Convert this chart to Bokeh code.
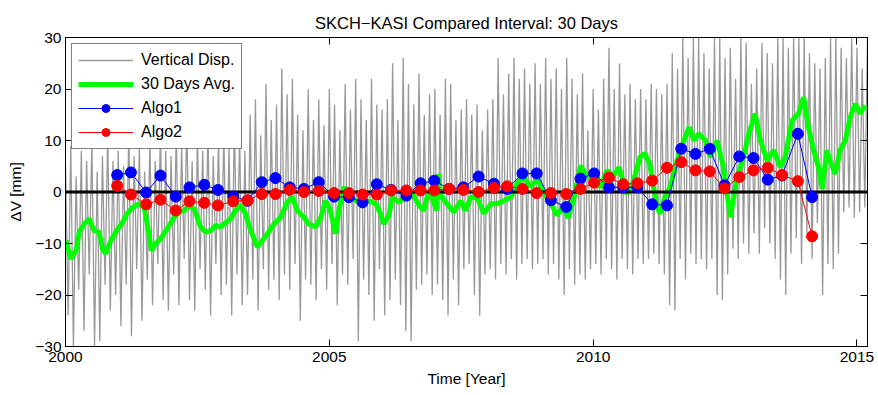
import numpy as np
from bokeh.plotting import figure
from bokeh.models import LinearAxis, FixedTicker, Range1d
from bokeh.embed import file_html
from bokeh.resources import INLINE

FONT = "Liberation Sans"

# ---------------- data ----------------
title_text = "SKCH\u2212KASI Compared Interval: 30 Days"
x_label = "Time [Year]"
y_label = "\u0394V [mm]"
x_ticks = [2000, 2005, 2010, 2015]
y_ticks = [-30, -20, -10, 0, 10, 20, 30]
y_tick_labels = ["\u221230", "\u221220", "\u221210", "0", "10", "20", "30"]

# vertical displacement: alternating local highs / lows, every 0.05 yr
gray_start = 2000.0
gray_step = 0.05
gray_v = [
    5, -24, 9, -30, 3, -19, 8, -27, 6, -16, 10, -30, 4, -29, 7, -18, 11, -23, 6, -20,      # 2000
    8, -26, 5, -18, 12, -28, 7, -15, 9, -25, 4, -17, 10, -22, 6, -14, 12, -21, 8, -23,     # 2001
    7, -16, 12, -22, 9, -13, 14, -21, 6, -23, 11, -15, 8, -19, 13, -24, 7, -14, 10, -20,   # 2002
    12, -18, 9, -24, 14, -16, 11, -22, 8, -20, 15, -17, 18, -23, 11, -15, 21, -19, 14, -17,  # 2003
    17, -21, 24, -16, 19, -19, 22, -14, 15, -25, 12, -17, 20, -18, 14, -21, 18, -15, 13, -19,  # 2004
    20, -14, 17, -22, 12, -16, 21, -18, 16, -13, 22, -29, 18, -17, 14, -20, 22, -25, 17, -15,  # 2005
    16, -24, 18, -21, 25, -17, 14, -22, 26, -27, 21, -29, 17, -19, 23, -18, 15, -16, 19, -20,  # 2006
    20, -18, 15, -21, 22, -24, 21, -17, 14, -22, 16, -15, 18, -14, 15, -20, 17, -24, 12, -16,  # 2007
    16, -15, 18, -17, 26, -14, 19, -16, 23, -13, 26, -17, 22, -14, 24, -13, 21, -15, 25, -14,  # 2008
    21, -13, 26, -16, 22, -14, 24, -17, 20, -20, 26, -15, 22, -18, 19, -16, 23, -17, 12, -15,  # 2009
    20, -14, 16, -16, 22, -13, 28, -15, 20, -17, 25, -13, 19, -15, 21, -16, 18, -13, 20, -14,  # 2010
    18, -13, 21, -12, 20, -14, 19, -16, 21, -22, 27, -23, 24, -13, 30, -17, 26, -12, 30, -14,  # 2011
    30, -13, 27, -15, 24, -13, 30, -20, 30, -21, 26, -16, 28, -11, 22, -13, 30, -10, 29, -12,  # 2012
    21, -8, 24, -12, 29, -7, 27, -10, 25, -13, 30, -17, 30, -20, 28, -12, 30, -9, 30, -14,     # 2013
    30, -8, 27, -13, 25, -6, 24, -20, 26, -14, 30, -15, 30, -12, 28, -4, 26, -3, 30, -5,       # 2014
    28, -4, 24, -3, 30,                                                                        # 2015
]

# 30 days average
avg_t = [
    2000.01, 2000.10, 2000.20, 2000.26, 2000.35, 2000.45, 2000.54, 2000.64, 2000.70, 2000.76, 2000.86, 2000.95,
    2001.08, 2001.17, 2001.27, 2001.39, 2001.49, 2001.56, 2001.63, 2001.71, 2001.80, 2001.93,
    2002.06, 2002.15, 2002.25, 2002.34, 2002.44, 2002.56, 2002.66, 2002.75, 2002.85, 2002.94,
    2003.04, 2003.13, 2003.22, 2003.32, 2003.41, 2003.51, 2003.64, 2003.73, 2003.83, 2003.95,
    2004.08, 2004.20, 2004.30, 2004.39, 2004.52, 2004.61, 2004.74, 2004.84, 2004.93,
    2005.02, 2005.12, 2005.18, 2005.28, 2005.37, 2005.50, 2005.63, 2005.75, 2005.88, 2005.97,
    2006.03, 2006.13, 2006.19, 2006.32, 2006.45, 2006.60, 2006.70, 2006.79, 2006.86, 2006.95,
    2007.03, 2007.07, 2007.11, 2007.23, 2007.36, 2007.49, 2007.58, 2007.68, 2007.80, 2007.93,
    2008.06, 2008.18, 2008.31, 2008.44, 2008.55, 2008.68, 2008.81, 2008.95,
    2009.06, 2009.19, 2009.31, 2009.42, 2009.53, 2009.64, 2009.76, 2009.89,
    2010.01, 2010.14, 2010.26, 2010.38, 2010.49, 2010.64, 2010.76, 2010.89, 2010.98,
    2011.07, 2011.21, 2011.27, 2011.36, 2011.46, 2011.59, 2011.72, 2011.82, 2011.91,
    2012.00, 2012.13, 2012.22, 2012.35, 2012.47, 2012.60, 2012.73, 2012.85, 2012.95,
    2013.07, 2013.17, 2013.30, 2013.42, 2013.55, 2013.64, 2013.77, 2013.89, 2013.99,
    2014.08, 2014.18, 2014.27, 2014.34, 2014.43, 2014.49, 2014.59, 2014.68, 2014.78, 2014.87, 2014.97,
    2015.06, 2015.16,
]
avg_v = [
    -9.4, -13.0, -11.4, -7.8, -6.2, -5.2, -7.5, -7.8, -11.0, -12.0, -9.4, -7.8,
    -5.9, -4.2, -3.0, -2.3, -3.0, -6.8, -11.4, -10.0, -9.1, -7.1,
    -4.9, -3.9, -3.6, -2.6, -3.3, -6.8, -7.8, -7.5, -6.5, -6.8,
    -5.9, -5.2, -3.6, -2.6, -4.2, -7.5, -10.7, -9.4, -8.1, -6.2,
    -4.9, -2.0, -1.0, -3.6, -4.9, -6.2, -6.8, -4.9, -1.7,
    -3.6, -8.1, -3.6, 1.0, -0.7, -1.7, -2.3, -1.7, -2.3, -4.2,
    -6.2, -4.6, -1.0, -2.0, -0.7, -0.7, -2.6, -3.6, -0.7, -1.0,
    -3.6, 3.5, -0.7, -2.3, -3.9, -1.7, -3.6, -1.0, -1.0, -4.2,
    -2.3, -2.3, -1.7, -1.0, 1.5, 3.0, 1.0, 2.5,
    0.0, -2.0, -4.5, -3.0, -5.0, -1.0, 5.1, 2.9,
    3.5, 0.9, 4.2, 3.0, 4.8, -0.4, 2.0, 6.8, 7.5,
    5.5, -2.9, -4.2, -1.0, 1.0, 6.1, 10.0, 12.6, 10.0,
    11.3, 10.0, 6.8, 10.0, 4.8, -4.9, 2.9, 6.8, 11.3,
    15.2, 10.0, 6.1, 8.1, 4.8, 6.8, 13.9, 15.2, 18.4,
    12.6, 8.1, 4.8, 0.6, 8.1, 6.0, 3.5, 8.1, 10.0, 14.5, 17.1,
    15.2, 16.8,
]

# compared intervals
algo_t = [
    2000.98, 2001.24, 2001.53, 2001.80, 2002.09, 2002.35, 2002.63, 2002.89, 2003.18, 2003.45,
    2003.72, 2003.98, 2004.25, 2004.52, 2004.80, 2005.09, 2005.37, 2005.63, 2005.90, 2006.17,
    2006.46, 2006.73, 2006.99, 2007.27, 2007.54, 2007.83, 2008.12, 2008.37, 2008.66, 2008.93,
    2009.20, 2009.49, 2009.76, 2010.02, 2010.30, 2010.57, 2010.84, 2011.12, 2011.40, 2011.67,
    2011.94, 2012.21, 2012.49, 2012.77, 2013.04, 2013.31, 2013.58, 2013.88, 2014.15,
]
algo1 = [
    3.3, 3.8, -0.1, 3.2, -0.9, 0.9, 1.4, 0.4, -0.9, -1.7,
    1.9, 2.7, 0.9, 0.6, 1.9, -0.9, -1.0, -2.0, 1.5, 0.4,
    -0.7, 1.7, 2.2, 0.6, 0.9, 3.0, 1.6, 0.6, 3.6, 3.6,
    -1.6, -2.9, 2.6, 3.6, 0.9, 0.9, 0.9, -2.4, -2.6, 8.4,
    7.4, 8.4, 1.3, 6.9, 6.6, 2.4, 3.2, 11.3, -1.0,
]
algo2 = [
    1.2, -0.5, -2.4, -1.5, -3.6, -1.8, -2.1, -2.6, -1.8, -1.6,
    -0.4, -0.4, 0.4, 0.0, 0.2, -0.2, -0.2, -0.5, -0.5, 0.3,
    0.3, 0.3, 0.3, 0.6, 0.4, 0.0, 0.8, 1.1, 0.6, -0.2,
    -0.2, -0.4, 0.6, 1.8, 2.8, 1.5, 1.7, 2.2, 4.7, 5.8,
    4.2, 4.0, 0.7, 2.9, 4.2, 4.7, 3.3, 2.1, -8.6,
]
zero_level = 0.0

# ---------------- figure ----------------
gray_t = gray_start + gray_step * np.arange(len(gray_v))

p = figure(width=878, height=395, output_backend="svg", toolbar_location=None,
           x_range=Range1d(2000, 2015.2), y_range=Range1d(-30, 30),
           min_border_left=65, min_border_right=11, min_border_top=37, min_border_bottom=49,
           x_axis_label=x_label, y_axis_label=y_label)
p.background_fill_color = "white"
p.border_fill_color = "white"
p.grid.visible = False
p.outline_line_color = "black"
p.outline_line_width = 1

p.title.text = title_text
p.title.align = "center"
p.title.text_font = FONT
p.title.text_font_size = "16.5px"
p.title.text_font_style = "normal"
p.title.text_color = "black"
p.title.standoff = 12

GRAY = "#999999"
p.line(gray_t, gray_v, line_color=GRAY, line_width=1.3, legend_label="Vertical Disp.")
p.line(avg_t, avg_v, line_color="#00ff00", line_width=5, legend_label="30 Days Avg.")
p.line([gray_t[0], gray_t[-1]], [zero_level, zero_level], line_color="black", line_width=3)
p.line(algo_t, algo1, line_color="#0000ff", line_width=1, legend_label="Algo1")
p.scatter(algo_t, algo1, size=11, fill_color="#0000ff", line_color="#0000ff", legend_label="Algo1")
p.line(algo_t, algo2, line_color="#ff0000", line_width=1, legend_label="Algo2")
p.scatter(algo_t, algo2, size=11, fill_color="#ff0000", line_color="#ff0000", legend_label="Algo2")

p.add_layout(LinearAxis(), "right")
p.add_layout(LinearAxis(), "above")

for ax in p.xaxis:
    ax.ticker = FixedTicker(ticks=x_ticks)
for ax in p.yaxis:
    ax.ticker = FixedTicker(ticks=y_ticks)
    ax.major_label_overrides = {t: s for t, s in zip(y_ticks, y_tick_labels)}

for ax in p.axis:
    ax.major_tick_in = 7
    ax.major_tick_out = 0
    ax.minor_tick_line_color = None
    ax.axis_line_color = "black"
    ax.major_tick_line_color = "black"
    ax.major_label_text_font = FONT
    ax.major_label_text_font_size = "15.5px"
    ax.major_label_text_color = "black"
    ax.axis_label_text_font = FONT
    ax.axis_label_text_font_size = "15.5px"
    ax.axis_label_text_font_style = "normal"
    ax.axis_label_text_color = "black"

p.xaxis[0].major_label_standoff = 6
p.yaxis[0].major_label_standoff = 4
p.xaxis[0].axis_label_standoff = 5
p.yaxis[0].axis_label_standoff = 8
# top and right axes only carry tick marks
for ax in (p.above[0], p.right[0]):
    ax.major_label_text_font_size = "1px"
    ax.major_label_text_color = None
    ax.major_label_standoff = 0

lg = p.legend[0]
lg.location = "top_left"
lg.margin = 6
lg.border_line_color = "black"
lg.border_line_width = 1
lg.background_fill_alpha = 1.0
lg.label_text_font = FONT
lg.label_text_font_size = "16px"
lg.label_text_color = "black"
lg.glyph_width = 55
lg.glyph_height = 20
lg.label_height = 20
lg.spacing = 4
lg.padding = 6
lg.label_standoff = 8

open("out.html", "w").write(file_html(p, INLINE))
